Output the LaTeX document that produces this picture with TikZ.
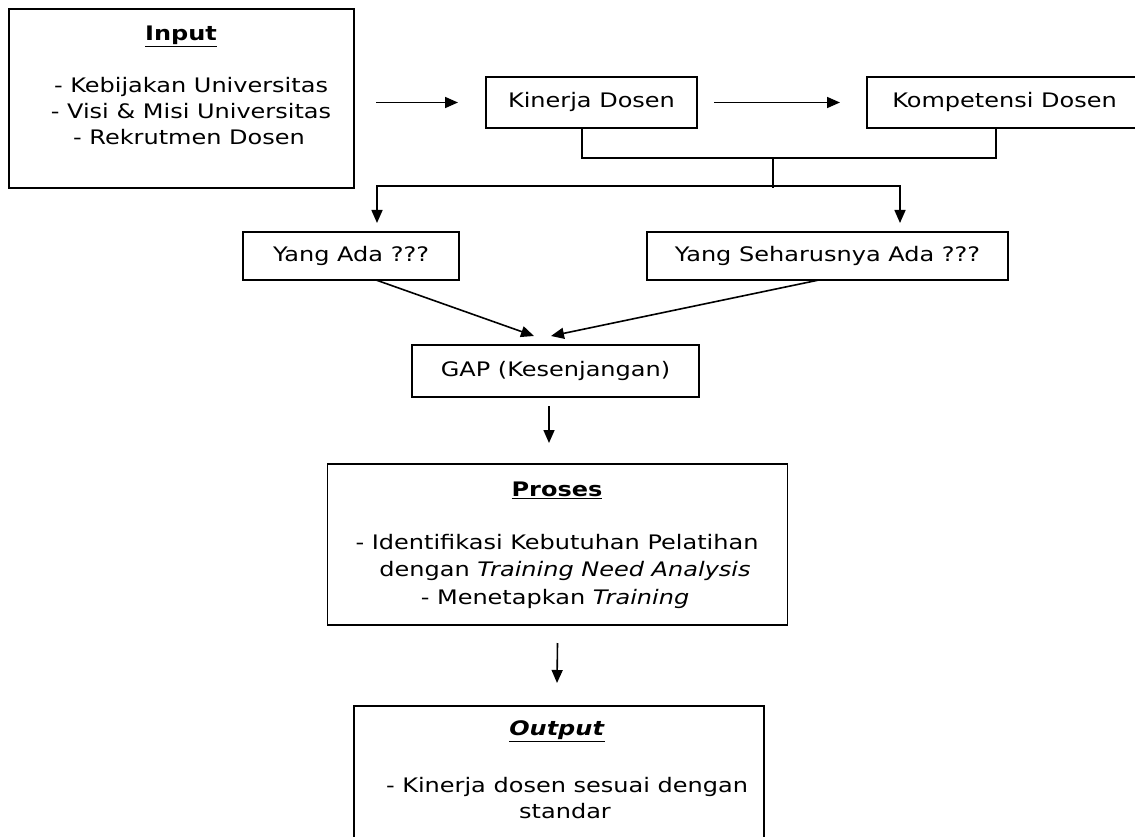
\documentclass[tikz,border=0pt]{standalone}
\usepackage{fontspec}
\setmainfont{DejaVu Sans}[FakeStretch=1.2]
\usetikzlibrary{arrows.meta,calc}
\tikzset{
  box/.style={draw, rectangle, line width=1.8pt, inner sep=0pt, outer sep=0pt,
    font=\fontsize{20pt}{24pt}\selectfont, text height=14.6pt, text depth=4pt},
  lbl/.style={inner sep=0pt, font=\fontsize{20pt}{24pt}\selectfont, text height=14.6pt, text depth=4pt},
  conn/.style={line width=1.6pt},
  arr/.style={conn, -{Triangle[length=13pt,width=11pt]}},
}
\begin{document}
\begin{tikzpicture}[x=1pt,y=-1pt]
\useasboundingbox (0,0) rectangle (1135,837);
\fill[white] (0,0) rectangle (1135,837);
\clip (0,0) rectangle (1135,837);

% boxes
\node[box, minimum width=345pt, minimum height=179pt] (inp) at (181.5,98.5) {};
\node[box, minimum width=211pt, minimum height=51pt] (kin) at (591.5,102.5) {Kinerja Dosen};
\node[box, minimum width=275pt, minimum height=51pt] (komp) at (1004.5,102.5) {Kompetensi Dosen};
\node[box, minimum width=216pt, minimum height=48pt] (yada) at (351,256) {Yang Ada ???};
\node[box, minimum width=361pt, minimum height=48pt] (yseh) at (827.5,256) {Yang Seharusnya Ada ???};
\node[box, minimum width=287pt, minimum height=52pt] (gap) at (555.5,371) {GAP (Kesenjangan)};
\node[box, minimum width=460pt, minimum height=161pt] (pro) at (557.5,544.5) {};
\node[box, minimum width=410pt, minimum height=150pt] (out) at (559,781) {};

% texts of Input
\node[lbl] (inT) at (181,35) {\underline{\textbf{Input}}};
\node[lbl] (in1) at (191,87) {- Kebijakan Universitas};
\node[lbl] (in2) at (191,113) {- Visi \& Misi Universitas};
\node[lbl] (in3) at (189,139) {- Rekrutmen Dosen};

% texts of Proses
\node[lbl] (proT) at (557,491) {\underline{\textbf{Proses}}};
\node[lbl] (pro1) at (557,544) {- Identifikasi Kebutuhan Pelatihan};
\node[lbl] (pro2) at (565,571) {dengan \textit{Training Need Analysis}};
\node[lbl] (pro3) at (555,599) {- Menetapkan \textit{Training}};

% texts of Output
\node[lbl] (outT) at (557,730) {\underline{\textbf{\textit{Output}}}};
\node[lbl] (out1) at (567,787) {- Kinerja dosen sesuai dengan};
\node[lbl] (out2) at (565,813) {standar};

% connectors
\draw[arr] ($(inp.east |- kin.west)+(22,0)$) -- ($(kin.west)+(-28,0)$);
\draw[arr] ($(kin.east)+(17,0)$) -- ($(komp.west)+(-27,0)$);

\coordinate (j1) at (773,158);
\coordinate (j2) at (773,186);
\draw[conn] ($(kin.south)+(-9.5,0)$) |- (j1) -| ($(komp.south)+(-8.5,0)$);
\draw[conn] (j1) -- ($(j2)+(0,2)$);
\draw[arr] (j2) -| ($(yada.north)+(26,-9)$);
\draw[arr] (j2) -| ($(yseh.north)+(72.5,-9)$);

\draw[arr] ($(yada.south)+(25,0)$) -- ($(gap.north)+(-21.5,-9)$);
\draw[arr] ($(yseh.south)+(-8.5,0)$) -- ($(gap.north)+(-4.5,-9)$);

\draw[arr] ($(gap.south)+(-6.5,9)$) -- ($(pro.north)+(-8.5,-21)$);
\draw[arr] ($(pro.south)+(0,18)$) -- ($(out.north)+(-2,-23)$);
\end{tikzpicture}
\end{document}
